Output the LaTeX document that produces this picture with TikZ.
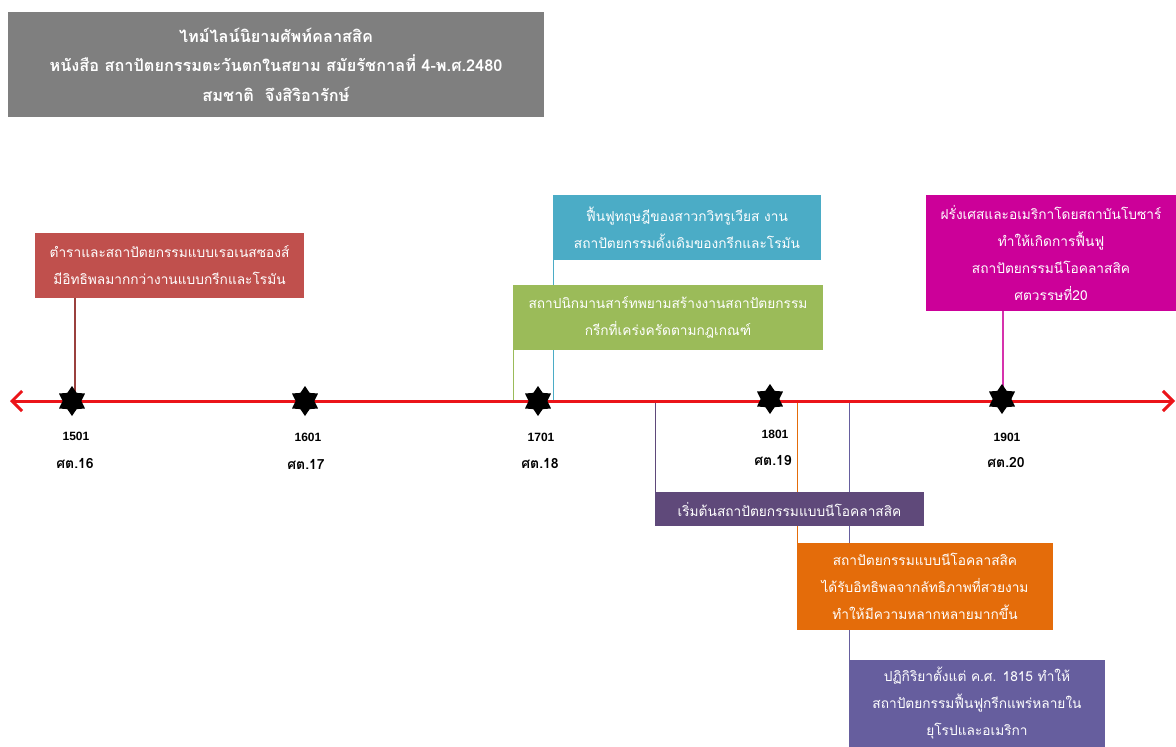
\documentclass[tikz,border=0pt]{standalone}
\usepackage{fontspec}
\setmainfont{Liberation Sans}
\newfontfamily\thai[Script=Thai]{Loma}
\usetikzlibrary{shapes.geometric,arrows.meta}
\definecolor{ttlgray}{RGB}{127,127,127}
\definecolor{cred}{RGB}{192,80,77}
\definecolor{cblue}{RGB}{75,172,198}
\definecolor{cgreen}{RGB}{155,187,89}
\definecolor{cmag}{RGB}{204,0,153}
\definecolor{cpurple}{RGB}{95,73,122}
\definecolor{corange}{RGB}{228,108,10}
\definecolor{cslate}{RGB}{102,94,158}
\definecolor{tlred}{RGB}{235,20,25}
\pgfdeclarelayer{back}
\pgfdeclarelayer{bg}
\pgfsetlayers{back,bg,main}
\begin{document}
\begin{tikzpicture}[x=1pt,y=-1pt,
  box/.style={inner sep=0pt, align=center, text=white,
    font=\thai\fontsize{13.7}{27}\selectfont},
  ttl/.style={inner sep=0pt, align=center, text=white, fill=ttlgray,
    font=\thai\bfseries\fontsize{16.3}{29.5}\selectfont},
  lead/.style={line width=1.7pt},
  mark6/.style={star, star points=6, star point ratio=1.6, fill=black,
    minimum size=30pt, inner sep=0pt},
  yr/.style={font=\bfseries\fontsize{12}{14}\selectfont, inner sep=0pt},
  cent/.style={font=\thai\bfseries\fontsize{14}{16}\selectfont, inner sep=0pt},
  tline/.style={line width=3pt, draw=tlred,
    {Straight Barb[length=10pt,width=20pt,line width=3pt]}-{Straight Barb[length=10pt,width=20pt,line width=3pt]}}]
\useasboundingbox (0,0) rectangle (1176,747);
\begin{pgfonlayer}{back}
\fill[white] (0,0) rectangle (1176,747);
\end{pgfonlayer}

% title
\node[ttl, minimum width=536pt, minimum height=105pt] (title) at (276,64.5)
  {ไทม์ไลน์นิยามศัพท์คลาสสิค\\หนังสือ สถาปัตยกรรมตะวันตกในสยาม สมัยรัชกาลที่ 4-พ.ศ.2480\\สมชาติ\ \ จึงสิริอารักษ์};

% boxes
\node[box, fill=cred, minimum width=269pt, minimum height=65pt] (red) at (169.5,265.5)
  {ตำราและสถาปัตยกรรมแบบเรอเนสซองส์\\มีอิทธิพลมากกว่างานแบบกรีกและโรมัน};
\node[box, fill=cblue, minimum width=268pt, minimum height=65pt] (blue) at (687,227.5)
  {ฟื้นฟูทฤษฎีของสาวกวิทรูเวียส งาน\\สถาปัตยกรรมดั้งเดิมของกรีกและโรมัน};
\node[box, fill=cgreen, minimum width=310pt, minimum height=65pt] (green) at (668,317.5)
  {สถาปนิกมานสาร์ทพยามสร้างงานสถาปัตยกรรม\\กรีกที่เคร่งครัดตามกฎเกณฑ์};
\node[box, fill=cmag, minimum width=250pt, minimum height=116pt] (mag) at (1051,253)
  {ฝรั่งเศสและอเมริกาโดยสถาบันโบซาร์\\ทำให้เกิดการฟื้นฟู\\สถาปัตยกรรมนีโอคลาสสิค\\ศตวรรษที่20};
\node[box, fill=cpurple, minimum width=269pt, minimum height=34pt] (purple) at (789.5,509)
  {เริ่มต้นสถาปัตยกรรมแบบนีโอคลาสสิค};
\node[box, fill=corange, minimum width=256pt, minimum height=87pt] (orange) at (925,586.5)
  {สถาปัตยกรรมแบบนีโอคลาสสิค\\ได้รับอิทธิพลจากลัทธิภาพที่สวยงาม\\ทำให้มีความหลากหลายมากขึ้น};
\node[box, fill=cslate, minimum width=256pt, minimum height=87pt] (slate) at (977,703.5)
  {ปฏิกิริยาตั้งแต่ ค.ศ. 1815 ทำให้\\สถาปัตยกรรมฟื้นฟูกรีกแพร่หลายใน\\ยุโรปและอเมริกา};

% timeline
\coordinate (tlL) at (10,401);
\coordinate (tlR) at (1175,401);
\draw[tline] (tlL) -- (tlR);

% stars
\node[mark6] (s1) at (72,401) {};
\node[mark6] (s2) at (305,401) {};
\node[mark6] (s3) at (538,401) {};
\node[mark6] (s4) at (770,399) {};
\node[mark6] (s5) at (1002,399) {};

% year labels
\node[yr] (y1) at (76,436) {1501};
\node[yr] (y2) at (308,437) {1601};
\node[yr] (y3) at (541,437) {1701};
\node[yr] (y4) at (775,434) {1801};
\node[yr] (y5) at (1007,437) {1901};
\node[cent] (c1) at (75,464) {ศต.16};
\node[cent] (c2) at (306,464) {ศต.17};
\node[cent] (c3) at (540,464) {ศต.18};
\node[cent] (c4) at (773,461) {ศต.19};
\node[cent] (c5) at (1006,463) {ศต.20};

% leader lines
\begin{pgfonlayer}{bg}
\draw[lead, draw=cred!80!black] ([xshift=40pt]red.south west) -- ([xshift=40pt]red.south west |- tlL);
\draw[lead, draw=cblue] ([xshift=0.8pt]blue.south west) -- ([xshift=0.8pt]blue.south west |- tlL);
\draw[lead, draw=cgreen] ([xshift=0.8pt]green.south west) -- ([xshift=0.8pt]green.south west |- tlL);
\draw[lead, draw=cmag!80] ([xshift=77pt]mag.south west) -- ([xshift=77pt]mag.south west |- tlL);
\draw[lead, draw=cpurple] ([xshift=0.8pt]purple.north west) -- ([xshift=0.8pt]purple.north west |- tlL);
\draw[lead, draw=corange] ([xshift=0.8pt]orange.north west) -- ([xshift=0.8pt]orange.north west |- tlL);
\draw[lead, draw=cslate] ([xshift=0.8pt]slate.north west) -- ([xshift=0.8pt]slate.north west |- tlL);
\end{pgfonlayer}
\end{tikzpicture}
\end{document}
